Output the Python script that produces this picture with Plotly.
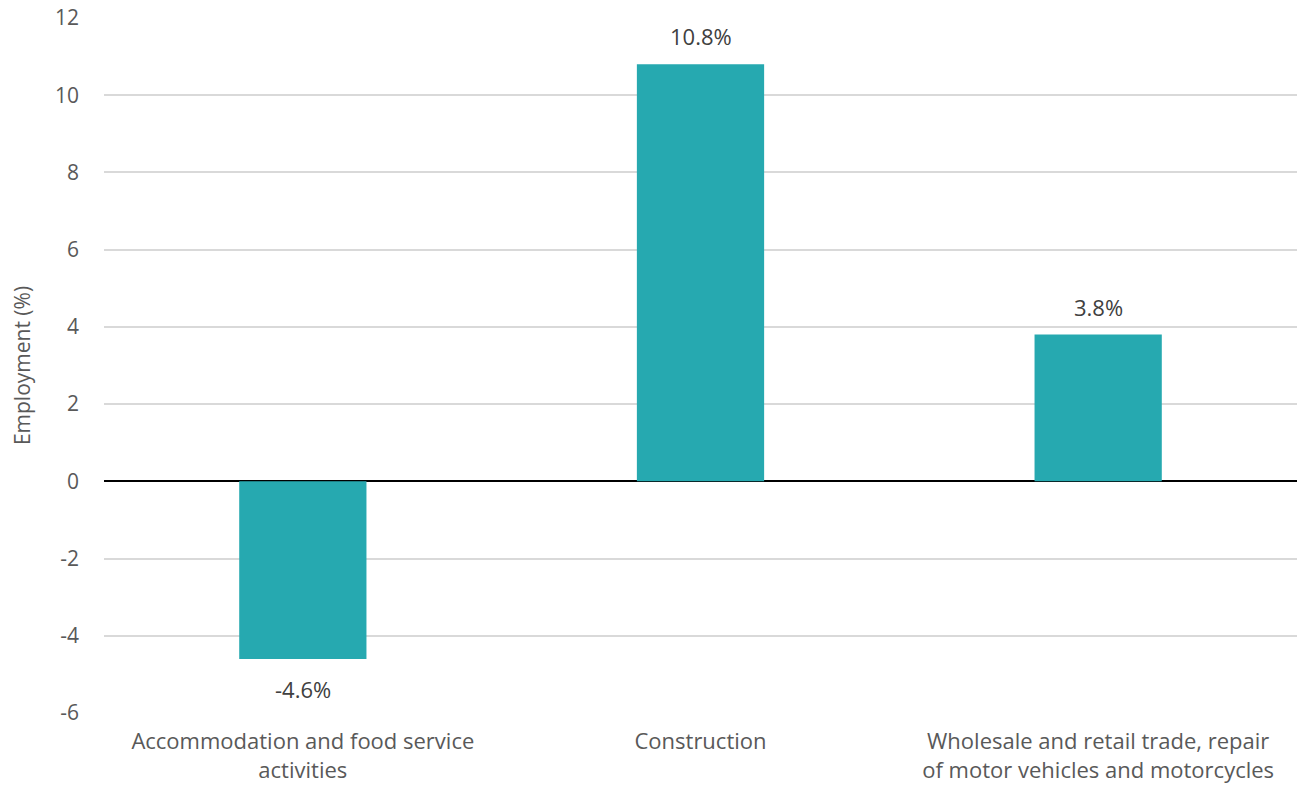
import plotly.graph_objects as go

categories = [
    "Accommodation and food service<br>activities",
    "Construction",
    "Wholesale and retail trade, repair<br>of motor vehicles and motorcycles",
]
employment_change = [-4.6, 10.8, 3.8]
y_ticks = [-6, -4, -2, 0, 2, 4, 6, 8, 10, 12]

FONT = "Open Sans, Liberation Sans, sans-serif"

fig = go.Figure(
    go.Bar(
        x=categories,
        y=employment_change,
        marker=dict(color="#26A9B0", line=dict(width=0)),
        hoverinfo="x+y",
    )
)

# value labels, offset from the bar ends
for cat, val in zip(categories, employment_change):
    fig.add_annotation(
        x=cat,
        y=val,
        text=f"{val:.1f}%",
        showarrow=False,
        yanchor="bottom" if val >= 0 else "top",
        yshift=11 if val >= 0 else -13,
        font=dict(family=FONT, size=22, color="#404040"),
    )

fig.update_layout(
    width=1299,
    height=785,
    margin=dict(l=104, r=2, t=18, b=72, autoexpand=False),
    paper_bgcolor="white",
    plot_bgcolor="white",
    bargap=0.68,
    showlegend=False,
    font=dict(family=FONT, color="#595959"),
)

fig.update_yaxes(
    range=[-6, 12],
    tickvals=y_ticks,
    ticktext=[str(v) for v in y_ticks],
    showgrid=True,
    gridcolor="#D9D9D9",
    gridwidth=1.5,
    zeroline=True,
    zerolinecolor="#000000",
    zerolinewidth=1.5,
    tickfont=dict(size=21, color="#595959"),
    ticklabelstandoff=24,
    automargin=False,
    title=dict(text="Employment (%)", font=dict(size=21, color="#595959"), standoff=18),
)

fig.update_xaxes(
    showgrid=False,
    automargin=False,
    tickfont=dict(size=22, color="#595959"),
    ticklabelstandoff=13,
)

fig.write_html("out.html")
